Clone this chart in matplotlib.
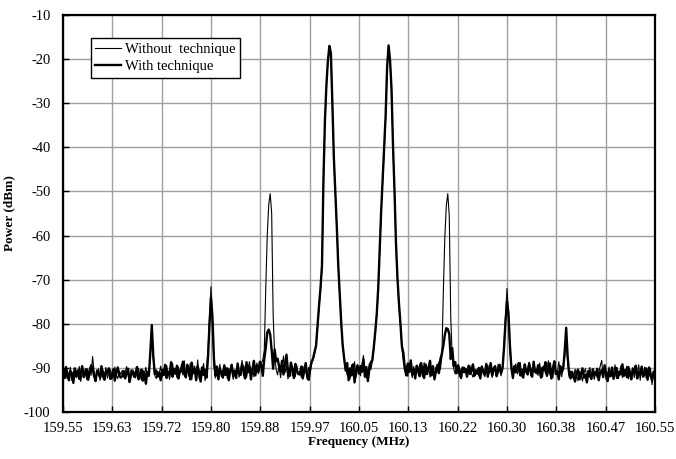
import numpy as np
import matplotlib
matplotlib.use("Agg")
import matplotlib.pyplot as plt

plt.rcParams['font.family'] = ['Liberation Serif', 'DejaVu Serif']
plt.rcParams['axes.unicode_minus'] = False

# frequency axis: 401 points from 159.55 to 160.55 MHz
f_start, f_stop, n_pts = 159.55, 160.55, 401

# power (dBm), 20 samples per 0.05 MHz
without_tech = [
    -91.2, -90.1, -92.4, -90.6, -91.8, -89.9, -92.9, -91.0, -90.3, -92.2, -91.5, -89.7, -93.1, -90.8, -91.9, -90.2, -92.6, -91.3, -90.0, -91.7,
    -87.4, -90.9, -92.2, -91.4, -90.2, -92.8, -91.6, -90.5, -91.9, -89.9, -92.3, -91.1, -90.4, -92.6, -91.3, -89.8, -91.7, -92.4, -90.7, -91.5,
    -90.6, -92.1, -91.0, -89.7, -91.8, -92.6, -90.4, -91.5, -90.9, -92.3, -91.2, -90.1, -91.7, -92.8, -90.5, -91.4, -89.9, -92.0, -91.3, -87.5,
    -80.8, -88.0, -91.7, -92.4, -90.8, -91.3, -89.6, -92.1, -90.5, -91.8, -89.4, -91.0, -92.6, -90.3, -88.9, -91.5, -90.7, -92.2, -89.8, -91.2,
    -89.2, -91.6, -88.4, -92.3, -90.1, -91.8, -88.9, -92.7, -90.4, -89.6, -91.9, -88.2, -92.5, -90.6, -91.3, -89.0, -92.9, -90.2, -86.0, -78.5,
    -71.6, -80.5, -89.5, -92.3, -90.6, -91.4, -89.2, -92.0, -90.5, -91.7, -89.8, -92.4, -90.2, -91.1, -89.5, -92.6, -90.9, -91.5, -89.7, -92.1,
    -90.4, -88.3, -91.8, -89.6, -92.2, -90.1, -88.6, -91.5, -89.9, -92.0, -90.7, -88.9, -91.3, -90.2, -89.0, -88.2, -86.0, -72.0, -60.0, -53.0,
    -50.5, -55.0, -78.0, -87.0, -90.3, -91.6, -89.4, -92.2, -90.0, -87.3, -91.1, -89.7, -92.5, -90.6, -88.9, -91.8, -90.2, -92.0, -89.5, -91.3,
    -90.8, -92.1, -89.6, -91.4, -90.2, -92.6, -89.9, -91.2, -89.0, -88.2, -86.8, -85.2, -80.8, -76.3, -72.2, -67.2, -47.5, -34.2, -26.2, -20.6,
    -17.1, -18.9, -30.2, -42.6, -50.2, -58.3, -67.1, -73.7, -80.2, -85.3, -88.2, -89.8, -91.6, -90.2, -92.5, -89.3, -91.0, -88.6, -92.1, -90.4,
    -90.1, -91.8, -89.2, -87.2, -90.6, -92.3, -91.1, -89.0, -90.4, -88.6, -85.7, -82.2, -78.2, -72.3, -63.7, -54.8, -47.7, -41.2, -33.2, -22.2,
    -17.2, -20.7, -27.3, -40.2, -50.3, -62.2, -70.1, -75.7, -80.3, -85.6, -88.7, -90.8, -89.4, -91.9, -88.9, -90.5, -92.2, -89.7, -91.3, -90.0,
    -91.4, -89.1, -90.7, -92.0, -88.8, -91.6, -90.3, -89.5, -92.1, -90.6, -91.2, -92.4, -89.8, -91.0, -88.6, -90.4, -87.5, -72.5, -60.5, -53.2,
    -50.5, -55.5, -78.5, -87.5, -90.2, -91.4, -89.6, -90.8, -92.0, -90.4, -91.1, -89.8, -90.6, -91.7, -90.3, -89.5, -91.2, -92.1, -90.9, -91.5,
    -90.8, -91.9, -90.5, -89.6, -91.3, -92.0, -90.2, -89.4, -91.1, -90.6, -92.2, -89.8, -90.9, -91.6, -89.2, -90.5, -91.8, -89.9, -84.5, -78.5,
    -72.0, -78.0, -86.5, -89.5, -91.6, -90.2, -89.1, -91.4, -90.5, -88.8, -92.0, -90.6, -89.5, -91.2, -90.0, -88.7, -91.8, -90.3, -89.4, -91.0,
    -90.4, -91.7, -88.9, -90.8, -92.1, -89.5, -91.3, -90.0, -88.4, -91.6, -90.2, -92.3, -89.1, -90.7, -91.5, -88.6, -90.9, -92.0, -89.3, -87.5,
    -82.2, -88.6, -92.1, -90.7, -91.8, -92.5, -90.3, -91.6, -92.9, -90.8, -91.4, -93.0, -91.1, -90.2, -92.4, -91.7, -89.9, -92.2, -91.0, -92.6,
    -90.8, -92.3, -91.1, -89.6, -88.3, -91.9, -90.5, -92.7, -91.3, -89.8, -92.0, -90.6, -91.5, -89.3, -92.4, -90.9, -91.7, -89.5, -92.2, -90.4,
    -91.2, -89.6, -92.5, -90.4, -91.8, -89.9, -92.2, -90.6, -91.5, -89.3, -92.8, -90.1, -91.7, -89.8, -92.3, -90.5, -91.9, -90.2, -93.8, -90.7,
    -92.3,
]

with_tech = [
    -90.4, -92.3, -89.8, -91.6, -92.8, -90.7, -91.2, -93.4, -90.1, -91.9, -90.6, -92.5, -91.0, -89.6, -92.1, -91.4, -90.3, -92.7, -91.1, -89.4,
    -90.2, -91.8, -93.0, -90.6, -91.4, -92.1, -89.6, -91.9, -92.7, -90.8, -91.2, -90.1, -92.5, -91.6, -90.3, -92.9, -91.0, -89.9, -91.7, -92.2,
    -91.9, -90.7, -92.4, -91.1, -90.2, -93.2, -91.5, -90.6, -92.0, -91.3, -89.8, -92.6, -91.7, -90.4, -92.9, -91.0, -93.6, -90.9, -91.8, -86.5,
    -80.3, -87.2, -91.4, -90.6, -92.0, -91.1, -92.8, -90.4, -91.6, -89.3, -92.3, -90.9, -91.5, -88.7, -92.0, -90.2, -91.3, -89.5, -92.4, -90.8,
    -90.8, -88.6, -91.4, -92.1, -89.3, -90.7, -92.6, -88.8, -91.2, -90.3, -92.8, -89.7, -91.0, -93.1, -89.9, -91.6, -90.4, -92.2, -87.5, -80.0,
    -74.0, -78.5, -88.0, -91.8, -89.7, -92.6, -90.3, -91.0, -92.2, -89.4, -91.6, -90.1, -92.8, -90.7, -89.3, -91.9, -90.6, -92.3, -89.0, -91.2,
    -91.6, -89.2, -90.5, -92.4, -88.7, -91.0, -89.8, -92.6, -90.3, -88.4, -91.7, -89.5, -90.9, -88.6, -89.3, -91.8, -88.0, -85.5, -82.0, -81.3,
    -82.4, -86.0, -90.2, -85.8, -88.5, -87.9, -89.6, -90.8, -88.4, -91.5, -89.3, -87.0, -90.6, -91.9, -88.8, -90.2, -92.3, -89.1, -90.7, -91.4,
    -91.5, -89.7, -92.4, -90.6, -88.9, -91.8, -92.7, -90.1, -88.6, -87.8, -86.4, -84.9, -80.4, -75.9, -71.8, -66.8, -47.0, -33.8, -25.8, -20.3,
    -17.0, -18.6, -29.8, -42.2, -49.8, -57.9, -66.8, -73.3, -79.8, -84.9, -87.9, -90.6, -88.9, -92.8, -90.1, -91.7, -89.2, -93.3, -90.5, -89.4,
    -91.3, -89.6, -90.9, -88.1, -92.0, -89.8, -93.0, -90.3, -88.7, -88.3, -85.3, -81.8, -77.8, -71.9, -63.3, -54.3, -47.3, -40.8, -32.8, -21.8,
    -16.9, -20.3, -26.9, -39.8, -49.8, -61.8, -69.7, -75.3, -79.9, -85.1, -86.6, -90.2, -91.7, -89.0, -90.9, -88.3, -91.5, -90.4, -92.4, -89.5,
    -90.3, -91.9, -88.9, -90.6, -92.3, -89.2, -91.4, -90.0, -88.4, -91.7, -89.6, -92.6, -90.8, -89.3, -91.2, -88.0, -86.8, -85.0, -82.5, -81.0,
    -81.2, -82.3, -88.0, -85.5, -89.6, -88.7, -91.2, -89.4, -90.6, -92.3, -89.9, -91.0, -90.2, -92.0, -89.5, -91.4, -90.7, -89.2, -91.8, -90.5,
    -91.3, -90.0, -92.4, -89.7, -90.8, -91.5, -89.1, -92.0, -90.4, -88.9, -91.7, -90.2, -89.6, -91.9, -90.7, -89.3, -91.2, -90.1, -85.5, -79.5,
    -75.0, -77.5, -85.0, -90.0, -92.3, -89.6, -91.0, -90.1, -88.9, -91.7, -90.4, -92.2, -89.2, -90.8, -91.5, -89.0, -90.6, -92.0, -88.6, -90.9,
    -91.2, -89.4, -90.6, -92.2, -89.9, -90.5, -88.7, -91.8, -90.3, -89.0, -92.4, -90.1, -88.5, -91.4, -90.8, -92.6, -89.6, -91.0, -90.2, -86.2,
    -80.9, -87.5, -91.3, -92.4, -90.9, -91.9, -93.1, -91.2, -90.4, -92.6, -91.5, -90.1, -92.2, -91.6, -93.3, -90.7, -91.8, -92.5, -90.3, -91.4,
    -91.6, -90.2, -92.8, -91.0, -90.5, -92.1, -89.4, -91.3, -93.0, -90.7, -91.9, -89.9, -92.5, -91.2, -90.0, -92.3, -90.8, -91.5, -89.2, -91.8,
    -90.5, -92.1, -89.8, -91.4, -92.6, -90.3, -91.1, -89.5, -92.4, -90.9, -91.6, -89.7, -92.0, -91.3, -90.1, -92.7, -89.9, -91.5, -92.9, -91.0,
    -90.6,
]

x_ticklabels = ["159.55", "159.63", "159.72", "159.80", "159.88", "159.97", "160.05",
                "160.13", "160.22", "160.30", "160.38", "160.47", "160.55"]
y_ticks = [-100, -90, -80, -70, -60, -50, -40, -30, -20, -10]

freq = np.linspace(f_start, f_stop, n_pts)

fig = plt.figure(figsize=(6.76, 4.59), dpi=100)
ax = fig.add_axes([0.0932, 0.1024, 0.8757, 0.8649])

ax.plot(freq, without_tech, color="black", lw=0.8, label="Without  technique")
ax.plot(freq, with_tech, color="black", lw=1.7, label="With technique")

ax.set_xlim(f_start, f_stop)
ax.set_ylim(-100, -10)
ax.set_xticks(np.linspace(f_start, f_stop, len(x_ticklabels)))
ax.set_xticklabels(x_ticklabels)
ax.set_yticks(y_ticks)
ax.tick_params(axis="both", direction="in", length=4, width=1, labelsize=10.5)
ax.tick_params(axis="x", pad=7)
ax.tick_params(axis="y", pad=9)
ax.grid(True, color="#a0a0a0", lw=1)
ax.set_axisbelow(True)
for s in ax.spines.values():
    s.set_linewidth(1.6)

ax.set_xlabel("Frequency (MHz)", fontsize=9.5, fontweight="bold", labelpad=1)
ax.set_ylabel("Power (dBm)", fontsize=9.5, fontweight="bold", labelpad=6)

leg = ax.legend(loc="upper left", bbox_to_anchor=(0.047, 0.942), borderaxespad=0,
                fontsize=10.5, fancybox=False, edgecolor="black", framealpha=1,
                handlelength=1.8, handletextpad=0.25, labelspacing=0.3, borderpad=0.3)
leg.get_frame().set_linewidth(1.0)

plt.savefig("out.png", dpi=100)
